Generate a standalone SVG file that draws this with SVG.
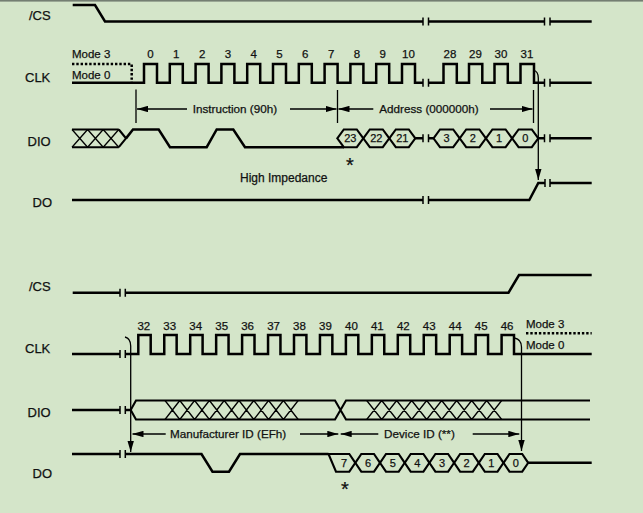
<svg xmlns="http://www.w3.org/2000/svg" width="643" height="513" viewBox="0 0 643 513">
<defs>
<style>
.sig{fill:none;stroke:#000;stroke-width:2.5;stroke-linejoin:miter}
.bus{fill:none;stroke:#000;stroke-width:2.1;stroke-linejoin:miter}
.hatch{fill:none;stroke:#000;stroke-width:1.3;stroke-linejoin:bevel}
.tick{stroke:#000;stroke-width:1.5}
.dot{fill:none;stroke:#000;stroke-width:2.5;stroke-dasharray:2.4 1.9}
.arr{fill:none;stroke:#000;stroke-width:1.3}
text{font-family:"Liberation Sans",Arial,sans-serif;fill:#111;stroke:#111;stroke-width:0.25}
.lbl{font-size:13px}
.num{font-size:11.5px;text-anchor:middle}
.ann{font-size:11.7px}
.hx{font-size:11px;text-anchor:middle}
.ast{font-size:20px;text-anchor:middle}
</style>
<marker id="ah" viewBox="0 0 11 6.4" refX="11" refY="3.2" markerWidth="11" markerHeight="6.4" markerUnits="userSpaceOnUse" orient="auto">
<path d="M0,0 L11,3.2 L0,6.4 z" fill="#000"/>
</marker>
</defs>
<rect x="0" y="0" width="643" height="513" fill="#d4e5c9"/>
<rect x="0" y="0" width="643" height="1.6" fill="#747e72"/>

<!-- Top section -->
<g id="cs-top">
<text class="lbl" x="29" y="20">/CS</text>
<path class="sig" d="M72.7,5 H95 L105,21.5 H423 M428.5,21.5 H544.5 M550,21.5 H591.7"/>
<path class="tick" d="M423,17.5 V25.5 M428.5,17.5 V25.5 M544.5,17.5 V25.5 M550,17.5 V25.5"/>
</g>

<g id="clk-top">
<text class="lbl" x="25" y="81.5">CLK</text>
<text class="ann" x="72" y="58" style="font-size:11.5px">Mode 3</text>
<text class="ann" x="72" y="79.3" style="font-size:11.5px">Mode 0</text>
<path class="dot" d="M72,64 H131.7 V82"/>
<path class="sig" d="M72,82.7 H144 V64 H157 V82.7 H169.8 V64 H182.8 V82.7 H195.6 V64 H208.6 V82.7 H221.4 V64 H234.4 V82.7 H247.2 V64 H260.2 V82.7 H273 V64 H286 V82.7 H298.8 V64 H311.8 V82.7 H324.6 V64 H337.6 V82.7 H350.4 V64 H363.4 V82.7 H376.2 V64 H389.2 V82.7 H402 V64 H415 V82.7 H423 M428.5,82.7 H443.5 V64 H456.8 V82.7 H469 V64 H482.3 V82.7 H494.5 V64 H507.8 V82.7 H520.5 V64 H534 V82.7 H544.5 M550,82.7 H591.7"/>
<path class="tick" d="M423,78.7 V86.7 M428.5,78.7 V86.7 M544.5,78.7 V86.7 M550,78.7 V86.7"/>
<text class="num" x="150.5" y="57.8">0</text>
<text class="num" x="176.3" y="57.8">1</text>
<text class="num" x="202.1" y="57.8">2</text>
<text class="num" x="227.9" y="57.8">3</text>
<text class="num" x="253.7" y="57.8">4</text>
<text class="num" x="279.5" y="57.8">5</text>
<text class="num" x="305.3" y="57.8">6</text>
<text class="num" x="331.1" y="57.8">7</text>
<text class="num" x="356.9" y="57.8">8</text>
<text class="num" x="382.7" y="57.8">9</text>
<text class="num" x="408.5" y="57.8">10</text>
<text class="num" x="450" y="57.8">28</text>
<text class="num" x="475.5" y="57.8">29</text>
<text class="num" x="501" y="57.8">30</text>
<text class="num" x="527" y="57.8">31</text>
</g>

<g id="dio-top">
<text class="lbl" x="27.5" y="145.5">DIO</text>
<path class="bus" d="M72,129.5 H118.8 M72,147.2 H118.8 M118.8,129.5 L126,138.35 L118.8,147.2"/>
<path class="hatch" d="M72,129.5 L87.6,147.2 L103.2,129.5 L118.8,147.2 M72,147.2 L87.6,129.5 L103.2,147.2 L118.8,129.5"/>
<path class="sig" d="M126,138.35 L133,129.5 H158.7 L170,147.2 H206.7 L216.7,129.5 H233.3 L245,147.2 H344"/>
<g class="bus">
<polygon points="337.3,138.35 343.8,129.5 356.8,129.5 363.3,138.35 356.8,147.2 343.8,147.2"/>
<polygon points="363.3,138.35 369.8,129.5 382.8,129.5 389.3,138.35 382.8,147.2 369.8,147.2"/>
<polygon points="389.3,138.35 395.8,129.5 408.8,129.5 415.3,138.35 408.8,147.2 395.8,147.2"/>
<polygon points="433.5,138.35 440,129.5 453.2,129.5 459.7,138.35 453.2,147.2 440,147.2"/>
<polygon points="459.7,138.35 466.2,129.5 479.4,129.5 485.9,138.35 479.4,147.2 466.2,147.2"/>
<polygon points="485.9,138.35 492.4,129.5 505.6,129.5 512.1,138.35 505.6,147.2 492.4,147.2"/>
<polygon points="512.1,138.35 518.6,129.5 531.8,129.5 538.3,138.35 531.8,147.2 518.6,147.2"/>
</g>
<path class="sig" d="M415.3,138.35 H423 M428.5,138.35 H433.5 M538.3,138.35 H544.5 M550,138.35 H591.7"/>
<path class="tick" d="M423,134.35 V142.35 M428.5,134.35 V142.35 M544.5,134.35 V142.35 M550,134.35 V142.35"/>
<text class="hx" x="350.3" y="142.3">23</text>
<text class="hx" x="376.3" y="142.3">22</text>
<text class="hx" x="402.3" y="142.3">21</text>
<text class="hx" x="446.6" y="142.3">3</text>
<text class="hx" x="472.8" y="142.3">2</text>
<text class="hx" x="499" y="142.3">1</text>
<text class="hx" x="525.2" y="142.3">0</text>
<text class="ast" x="350" y="171.5">*</text>
</g>

<g id="do-top">
<text class="lbl" x="32.5" y="206.5">DO</text>
<text class="ann" x="240" y="181.5" style="font-size:12px">High Impedance</text>
<path class="sig" d="M72,200 H423 M428.5,200 H529.3 L538.3,183 H545 M550,183 H591.7"/>
<path class="tick" d="M423,196 V204 M428.5,196 V204 M545,179 V187 M550,179 V187"/>
</g>

<!-- Bottom section -->
<g id="cs-bottom">
<text class="lbl" x="29" y="291">/CS</text>
<path class="sig" d="M72.7,292.7 H120 M125.3,292.7 H508.5 L519,275 H591.7"/>
<path class="tick" d="M120,288.7 V296.7 M125.3,288.7 V296.7"/>
</g>

<g id="clk-bottom">
<text class="lbl" x="25" y="352.5">CLK</text>
<path class="sig" d="M72,354 H120 M125.3,354 H138.3 V335 H150.7 V354 H164.25 V335 H176.65 V354 H190.2 V335 H202.6 V354 H216.15 V335 H228.55 V354 H242.1 V335 H254.5 V354 H268.05 V335 H280.45 V354 H294 V335 H306.4 V354 H319.95 V335 H332.35 V354 H345.9 V335 H358.3 V354 H371.85 V335 H384.25 V354 H397.8 V335 H410.2 V354 H423.75 V335 H436.15 V354 H449.7 V335 H462.1 V354 H475.65 V335 H488.05 V354 H501.6 V335 H514 V354 H591.7"/>
<path class="tick" d="M120,350 V358 M125.3,350 V358"/>
<path class="dot" d="M526,333.3 H591.7"/>
<text class="ann" x="526" y="328.3" style="font-size:11.5px">Mode 3</text>
<text class="ann" x="526" y="349.3" style="font-size:11.5px">Mode 0</text>
<text class="num" x="143.8" y="329.5">32</text>
<text class="num" x="169.75" y="329.5">33</text>
<text class="num" x="195.7" y="329.5">34</text>
<text class="num" x="221.65" y="329.5">35</text>
<text class="num" x="247.6" y="329.5">36</text>
<text class="num" x="273.55" y="329.5">37</text>
<text class="num" x="299.5" y="329.5">38</text>
<text class="num" x="325.45" y="329.5">39</text>
<text class="num" x="351.4" y="329.5">40</text>
<text class="num" x="377.35" y="329.5">41</text>
<text class="num" x="403.3" y="329.5">42</text>
<text class="num" x="429.25" y="329.5">43</text>
<text class="num" x="455.2" y="329.5">44</text>
<text class="num" x="481.15" y="329.5">45</text>
<text class="num" x="507.1" y="329.5">46</text>
</g>

<g id="dio-bottom">
<text class="lbl" x="27.5" y="416.5">DIO</text>
<path class="sig" d="M72,410 H120 M125.3,410 H130.7"/>
<path class="tick" d="M120,406 V414 M125.3,406 V414"/>
<path class="bus" d="M130.7,410 L136,400.5 H335 L346,419.5 H590 M130.7,410 L136,419.5 H335 L346,400.5 H590"/>
<path class="hatch" d="M165,400.5 L179.8,419.5 L194.6,400.5 L209.4,419.5 L224.2,400.5 L239,419.5 L253.8,400.5 L268.6,419.5 L283.4,400.5 L298.2,419.5 M165,419.5 L179.8,400.5 L194.6,419.5 L209.4,400.5 L224.2,419.5 L239,400.5 L253.8,419.5 L268.6,400.5 L283.4,419.5 L298.2,400.5"/>
<path class="hatch" d="M366.7,400.5 L381.7,419.5 L396.7,400.5 L411.7,419.5 L426.7,400.5 L441.7,419.5 L456.7,400.5 L471.7,419.5 L486.7,400.5 L501.7,419.5 M366.7,419.5 L381.7,400.5 L396.7,419.5 L411.7,400.5 L426.7,419.5 L441.7,400.5 L456.7,419.5 L471.7,400.5 L486.7,419.5 L501.7,400.5"/>
</g>

<g id="do-bottom">
<text class="lbl" x="32.5" y="478">DO</text>
<path class="sig" d="M72,454 H120 M125.3,454 H201.5 L212.5,471.7 H229 L240,454 H328.5"/>
<path class="tick" d="M120,450 V458 M125.3,450 V458"/>
<g class="bus">
<polygon points="328.5,454 349.3,454 355.3,462.85 349.3,471.7 336,471.7"/>
<polygon points="355.3,462.85 361.3,454 374,454 380,462.85 374,471.7 361.3,471.7"/>
<polygon points="380,462.85 386,454 398.7,454 404.7,462.85 398.7,471.7 386,471.7"/>
<polygon points="404.7,462.85 410.7,454 423.4,454 429.4,462.85 423.4,471.7 410.7,471.7"/>
<polygon points="429.4,462.85 435.4,454 448.1,454 454.1,462.85 448.1,471.7 435.4,471.7"/>
<polygon points="454.1,462.85 460.1,454 472.8,454 478.8,462.85 472.8,471.7 460.1,471.7"/>
<polygon points="478.8,462.85 484.8,454 497.5,454 503.5,462.85 497.5,471.7 484.8,471.7"/>
<polygon points="503.5,462.85 509.5,454 522.2,454 528.2,462.85 522.2,471.7 509.5,471.7"/>
</g>
<path class="sig" d="M528.2,462.85 H591.7"/>
<text class="hx" x="344" y="466.8">7</text>
<text class="hx" x="368" y="466.8">6</text>
<text class="hx" x="392.7" y="466.8">5</text>
<text class="hx" x="417.4" y="466.8">4</text>
<text class="hx" x="442" y="466.8">3</text>
<text class="hx" x="466.6" y="466.8">2</text>
<text class="hx" x="491.2" y="466.8">1</text>
<text class="hx" x="515.9" y="466.8">0</text>
<text class="ast" x="345" y="495.5">*</text>
</g>

<g id="connectors">
<path class="arr" d="M136,89.5 V123 M337.5,90 V123 M533.5,90 V123"/>
<line class="arr" x1="187" y1="109" x2="137" y2="109" marker-end="url(#ah)"/>
<line class="arr" x1="290" y1="109" x2="336.5" y2="109" marker-end="url(#ah)"/>
<line class="arr" x1="373.3" y1="109" x2="338.5" y2="109" marker-end="url(#ah)"/>
<line class="arr" x1="490" y1="109" x2="532.5" y2="109" marker-end="url(#ah)"/>
<text class="ann" x="192.7" y="113">Instruction (90h)</text>
<text class="ann" x="379.3" y="113">Address (000000h)</text>
<path class="arr" d="M533.5,70 Q538.3,71.5 538.3,78 V180" marker-end="url(#ah)"/>
<path class="arr" d="M125,337 Q130.7,338.5 130.7,346 V452" marker-end="url(#ah)"/>
<path class="arr" d="M514.5,338 Q521.5,339.5 521.5,347 V451" marker-end="url(#ah)"/>
<line class="arr" x1="165.7" y1="434" x2="132.5" y2="434" marker-end="url(#ah)"/>
<line class="arr" x1="300" y1="434" x2="338.3" y2="434" marker-end="url(#ah)"/>
<line class="arr" x1="378.3" y1="434" x2="340.7" y2="434" marker-end="url(#ah)"/>
<line class="arr" x1="472.7" y1="434" x2="519.3" y2="434" marker-end="url(#ah)"/>
<text class="ann" x="170" y="438">Manufacturer ID (EFh)</text>
<text class="ann" x="384" y="438">Device ID (**)</text>
</g>
</svg>
